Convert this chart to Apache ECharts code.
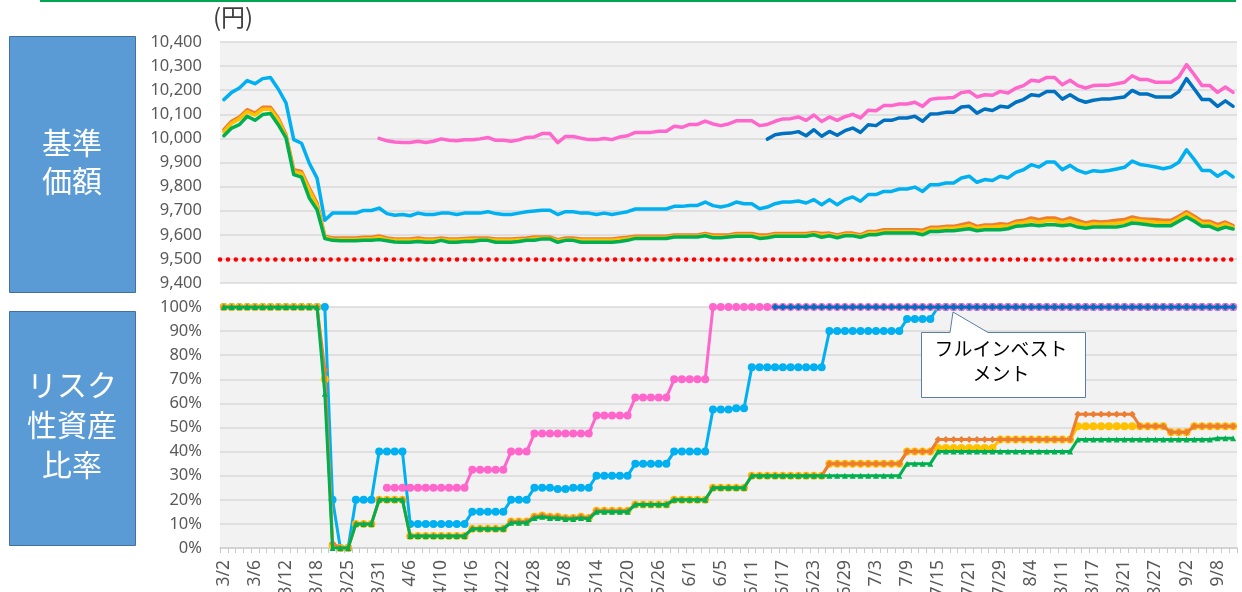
<!DOCTYPE html>
<html>
<head>
<meta charset="utf-8">
<script src="https://cdn.jsdelivr.net/npm/echarts@6/dist/echarts.min.js"></script>
<style>
  html, body { margin: 0; padding: 0; background: #fff; }
  #main { width: 1242px; height: 592px; }
</style>
</head>
<body>
<div id="main"></div>
<script>
// 営業日 (2020/3/2 - 9/10)
var dates = [
  '3/2','3/3','3/4','3/5','3/6','3/9','3/10','3/11','3/12','3/13','3/16','3/17','3/18','3/19','3/23','3/24','3/25','3/26','3/27','3/30','3/31',
  '4/1','4/2','4/3','4/6','4/7','4/8','4/9','4/10','4/13','4/14','4/15','4/16','4/17','4/20','4/21','4/22','4/23','4/24','4/27','4/28','4/30',
  '5/1','5/7','5/8','5/11','5/12','5/13','5/14','5/15','5/18','5/19','5/20','5/21','5/22','5/25','5/26','5/27','5/28','5/29',
  '6/1','6/2','6/3','6/4','6/5','6/8','6/9','6/10','6/11','6/12','6/15','6/16','6/17','6/18','6/19','6/22','6/23','6/24','6/25','6/26','6/29','6/30',
  '7/1','7/2','7/3','7/6','7/7','7/8','7/9','7/10','7/13','7/14','7/15','7/16','7/17','7/20','7/21','7/22','7/27','7/28','7/29','7/30','7/31',
  '8/3','8/4','8/5','8/6','8/7','8/11','8/12','8/13','8/14','8/17','8/18','8/19','8/20','8/21','8/24','8/25','8/26','8/27','8/28','8/31',
  '9/1','9/2','9/3','9/4','9/7','9/8','9/9','9/10'
];

// 基準価額 (円)
var navCyan = [
  10161,10191,10209,10240,10227,10248,10253,10205,10147,9995,9980,9897,9835,9660,
  9690,9690,9690,9690,9701,9701,9711,9688,9681,
  9684,9679,9690,9684,9684,9690,9690,9684,9690,9690,
  9690,9696,9688,9684,9684,9690,9696,9699,9702,9702,
  9684,9696,9696,9690,9690,9684,9690,9684,9690,9696,
  9707,9707,9707,9707,9707,9718,9718,9722,9722,9736,
  9721,9715,9722,9736,9729,9729,9708,9715,9729,9736,
  9736,9740,9732,9746,9725,
  9746,9725,9746,9757,9739,9767,9767,9780,9780,9790,
  9790,9798,9780,9808,9808,9815,9815,9836,9843,9818,
  9829,9825,9843,9836,9859,9870,9891,9881,9902,9902,
  9870,9888,9867,9856,9866,9863,9867,9873,9880,9906,
  9892,9887,9881,9874,9881,9901,9953,9912,9867,9867,
  9843,9863,9840
];
var navYellow = [
  10028,10063,10081,10111,10097,10121,10121,10077,10008,9862,9855,9785,9722,9590,
  9582,9581,9581,9581,9584,9584,9589,9581,9577,
  9577,9577,9580,9577,9577,9581,9577,9577,9579,9580,
  9581,9581,9577,9577,9577,9579,9581,9585,9586,9586,
  9575,9581,9581,9577,9577,9577,9577,9577,9581,9584,
  9589,9589,9589,9589,9589,9594,9594,9594,9594,9600,
  9593,9593,9594,9599,9599,9599,9592,9593,9599,9599,
  9599,9599,9599,9604,9598,
  9601,9593,9601,9601,9594,9607,9607,9614,9614,9614,
  9614,9614,9610,9623,9623,9627,9627,9633,9639,9627,
  9632,9632,9636,9635,9647,9651,9658,9652,9658,9658,
  9650,9658,9648,9640,9646,9644,9646,9648,9652,9663,
  9658,9655,9652,9650,9650,9668,9687,9668,9647,9647,
  9633,9644,9631
];
var navOrange = [
  10036,10071,10089,10119,10105,10129,10129,10085,10015,9870,9863,9794,9732,9594,
  9587,9587,9587,9587,9590,9590,9595,9587,9583,
  9583,9583,9587,9583,9583,9587,9583,9583,9585,9587,
  9587,9587,9583,9583,9583,9585,9587,9591,9591,9591,
  9580,9587,9587,9583,9583,9583,9583,9583,9587,9590,
  9594,9594,9594,9594,9594,9599,9599,9599,9599,9605,
  9599,9599,9599,9605,9605,9605,9599,9599,9605,9605,
  9605,9605,9605,9610,9605,
  9607,9599,9607,9607,9600,9614,9614,9621,9621,9621,
  9621,9621,9619,9631,9631,9635,9635,9642,9649,9635,
  9641,9641,9646,9643,9656,9660,9670,9663,9670,9670,
  9660,9670,9660,9649,9656,9653,9656,9660,9663,9674,
  9667,9665,9663,9660,9660,9677,9696,9677,9656,9656,
  9642,9653,9638
];
var navGreen = [
  10011,10043,10057,10092,10075,10099,10103,10057,10002,9850,9839,9753,9704,9584,
  9577,9575,9575,9575,9577,9577,9580,9575,9570,
  9569,9569,9572,9569,9569,9577,9569,9569,9572,9572,
  9577,9577,9569,9569,9569,9572,9577,9577,9583,9583,
  9569,9577,9577,9569,9569,9569,9569,9569,9572,9577,
  9585,9585,9585,9585,9585,9591,9591,9591,9591,9596,
  9588,9588,9591,9594,9594,9594,9585,9588,9594,9594,
  9594,9594,9594,9600,9590,
  9596,9588,9596,9596,9590,9600,9600,9607,9607,9607,
  9607,9607,9600,9614,9614,9617,9617,9621,9625,9617,
  9621,9621,9621,9625,9635,9638,9642,9638,9642,9642,
  9638,9642,9632,9627,9632,9632,9632,9632,9638,9649,
  9646,9642,9638,9638,9638,9656,9674,9656,9635,9635,
  9621,9632,9624
];
var navPink = [
  null,null,null,null,null,null,null,null,null,null,
  null,null,null,null,null,null,null,null,null,null,
  10000,9990,9985,9983,9983,9988,9983,9988,9998,9992,
  9990,9994,9994,9998,10004,9992,9992,9988,9994,10004,
  10006,10020,10020,9982,10008,10008,10001,9995,9995,10000,
  9995,10006,10011,10025,10025,10025,10030,10030,10050,10046,
  10058,10058,10072,10060,10053,10060,10073,10073,10073,10053,
  10058,10071,10081,10082,10089,10075,10097,10070,10089,10075,
  10090,10100,10085,10117,10115,10136,10136,10143,10143,10150,
  10133,10162,10167,10168,10170,10190,10195,10172,10181,10179,
  10195,10188,10208,10219,10241,10237,10253,10253,10223,10241,
  10219,10209,10219,10221,10221,10227,10233,10260,10244,10244,
  10233,10233,10233,10255,10306,10264,10219,10219,10191,10213,
  10191
];
var navNavy = [
  null,null,null,null,null,null,null,null,null,null,
  null,null,null,null,null,null,null,null,null,null,
  null,null,null,null,null,null,null,null,null,null,
  null,null,null,null,null,null,null,null,null,null,
  null,null,null,null,null,null,null,null,null,null,
  null,null,null,null,null,null,null,null,null,null,
  null,null,null,null,null,null,null,null,null,null,
  9997,10015,10020,10022,10028,10011,10036,10009,10029,10013,
  10032,10043,10025,10057,10053,10075,10075,10085,10085,10092,
  10071,10101,10102,10108,10108,10130,10133,10105,10122,10116,
  10133,10129,10150,10161,10181,10177,10195,10195,10163,10181,
  10161,10150,10158,10163,10163,10168,10172,10199,10184,10184,
  10172,10172,10172,10194,10248,10205,10161,10161,10133,10156,
  10133
];
var navFloor = 9500;

// リスク性資産比率 (%)
var riskCyan = [
  100,100,100,100,100,100,100,100,100,100,100,100,100,100,
  20,0,0,20,20,20,40,40,40,40,
  10,10,10,10,10,10,10,10,
  15,15,15,15,15,20,20,20,
  25,25,25,24.5,24.5,25,25,25,
  30,30,30,30,30,35,35,35,35,35,
  40,40,40,40,40,57.5,57.5,57.5,58,58,
  75,75,75,75,75,75,75,75,75,75,
  90,90,90,90,90,90,90,90,90,90,
  95,95,95,95,
  100,100,100,100,100,100,100,100,100,100,
  100,100,100,100,100,100,100,100,100,100,
  100,100,100,100,100,100,100,100,100,100,
  100,100,100,100,100,100,100,100,100
];
var riskYellow = [
  100,100,100,100,100,100,100,100,100,100,100,100,100,
  70,1,0,0,10,10,10,20,20,20,20,
  5,5,5,5,5,5,5,5,
  8,8,8,8,8,11,11,11,
  13,13.5,13,13,12.5,12.5,13,12.5,
  15.5,15.5,15.5,15.5,15.5,18,18,18,18,18,
  20,20,20,20,20,25,25,25,25,25,
  30,30,30,30,30,30,30,30,30,30,
  35,35,35,35,35,35,35,35,35,35,
  40,40,40,40,
  41.5,41.5,41.5,41.5,41.5,41.5,41.5,41.5,
  45,45,45,45,45,45,45,45,45,45,
  50.5,50.5,50.5,50.5,50.5,50.5,50.5,50.5,
  50.5,50.5,50.5,50.5,48,48,48,
  50.5,50.5,50.5,50.5,50.5,50.5
];
var riskOrange = [
  100,100,100,100,100,100,100,100,100,100,100,100,100,
  74,2,0,0,10,10,10,20,20,20,20,
  5,5,5,5,5,5,5,5,
  8,8,8,8,8,11,11,11,
  13,13.5,13,13,12.5,12.5,13,12.5,
  15.5,15.5,15.5,15.5,15.5,18,18,18,18,18,
  20,20,20,20,20,25,25,25,25,25,
  30,30,30,30,30,30,30,30,30,30,
  35,35,35,35,35,35,35,35,35,35,
  40,40,40,40,
  45,45,45,45,45,45,45,45,45,45,
  45,45,45,45,45,45,45,45,
  55.5,55.5,55.5,55.5,55.5,55.5,55.5,55.5,
  50.5,50.5,50.5,50.5,48,48,48,
  50.5,50.5,50.5,50.5,50.5,50.5
];
var riskGreen = [
  100,100,100,100,100,100,100,100,100,100,100,100,100,
  64,0,0,0,10,10,10,20,20,20,20,
  5,5,5,5,5,5,5,5,
  8,8,8,8,8,10.5,10.5,10.5,
  12.5,13,12.5,12.5,12,12,12.5,12,
  15,15,15,15,15,18,18,18,18,18,
  20,20,20,20,20,25,25,25,25,25,
  30,30,30,30,30,30,30,30,30,30,
  30,30,30,30,30,30,30,30,30,30,
  35,35,35,35,
  40,40,40,40,40,40,40,40,40,40,
  40,40,40,40,40,40,40,40,
  45,45,45,45,45,45,45,45,45,45,
  45,45,45,45,45,45,45,45,45.5,45.5,45.5
];
var riskPink = [
  null,null,null,null,null,null,null,null,null,null,
  null,null,null,null,null,null,null,null,null,null,null,
  25,25,25,25,25,25,25,25,25,25,25,
  32.5,32.5,32.5,32.5,32.5,40,40,40,
  47.5,47.5,47.5,47.5,47.5,47.5,47.5,47.5,
  55,55,55,55,55,62.5,62.5,62.5,62.5,62.5,
  70,70,70,70,70,
  100,100,100,100,100,100,100,100,100,100,
  100,100,100,100,100,100,100,100,100,100,
  100,100,100,100,100,100,100,100,100,100,
  100,100,100,100,100,100,100,100,100,100,
  100,100,100,100,100,100,100,100,100,100,
  100,100,100,100,100,100,100,100,100,100,
  100,100,100,100,100,100,100,100
];
var riskNavy = [
  null,null,null,null,null,null,null,null,null,null,
  null,null,null,null,null,null,null,null,null,null,
  null,null,null,null,null,null,null,null,null,null,
  null,null,null,null,null,null,null,null,null,null,
  null,null,null,null,null,null,null,null,null,null,
  null,null,null,null,null,null,null,null,null,null,
  null,null,null,null,null,null,null,null,null,null,null,
  100,100,100,100,100,100,100,100,100,100,
  100,100,100,100,100,100,100,100,100,100,
  100,100,100,100,100,100,100,100,100,100,
  100,100,100,100,100,100,100,100,100,100,
  100,100,100,100,100,100,100,100,100,100,
  100,100,100,100,100,100,100,100,100,100
];

var FONT = "'Noto Sans', 'Noto Sans CJK JP', sans-serif";
var JP = "'Noto Sans CJK JP', sans-serif";
var GRAY = '#595959';

function navLine(name, data, color, z) {
    return {
        name: name, type: 'line', xAxisIndex: 0, yAxisIndex: 0,
        data: data, showSymbol: false, z: z,
        lineStyle: { color: color, width: 3.5, cap: 'round', join: 'round' },
        itemStyle: { color: color }
    };
}
function riskLine(name, data, color, symbol, size, z) {
    return {
        name: name, type: 'line', xAxisIndex: 1, yAxisIndex: 1,
        data: data, symbol: symbol, symbolSize: size, showAllSymbol: true, z: z,
        lineStyle: { color: color, width: 3 },
        itemStyle: { color: color }
    };
}

var cyanNav = navLine('cyan', navCyan, '#00b0f0', 2);
cyanNav.markLine = {
    silent: true, symbol: 'none', animation: false,
    label: { show: false },
    lineStyle: { color: '#ff0000', type: [0.1, 7.8], width: 4.5, cap: 'round' },
    data: [{ yAxis: navFloor }]
};

var myChart = echarts.init(document.getElementById('main'));
myChart.setOption({
    animation: false,
    backgroundColor: '#fff',
    textStyle: { fontFamily: FONT },
    grid: [
        { left: 220, right: 5, top: 42, height: 241, show: true, backgroundColor: '#f2f2f2', borderWidth: 0, outerBoundsMode: 'none', containLabel: false },
        { left: 220, right: 5, top: 307, height: 241, show: true, backgroundColor: '#f2f2f2', borderWidth: 0, outerBoundsMode: 'none', containLabel: false }
    ],
    xAxis: [
        {
            type: 'category', gridIndex: 0, data: dates, boundaryGap: true,
            axisLine: { show: false }, axisTick: { show: false }, axisLabel: { show: false }
        },
        {
            type: 'category', gridIndex: 1, data: dates, boundaryGap: true,
            axisLine: { lineStyle: { color: '#d0d0d0', width: 1.5 } },
            axisTick: { show: true, interval: 0, length: 5, lineStyle: { color: '#c8c8c8' } },
            axisLabel: { interval: 3, rotate: 90, fontSize: 17.5, color: GRAY, margin: 12, fontFamily: FONT }
        }
    ],
    yAxis: [
        {
            type: 'value', gridIndex: 0, min: 9400, max: 10400, interval: 100,
            axisLine: { show: false }, axisTick: { show: false },
            axisLabel: {
                fontSize: 16.5, color: GRAY, margin: 18, fontFamily: FONT,
                formatter: function (v) { return v.toLocaleString('en-US'); }
            },
            splitLine: { lineStyle: { color: '#d9d9d9', width: 1.5 } }
        },
        {
            type: 'value', gridIndex: 1, min: 0, max: 100, interval: 10,
            axisLine: { show: false }, axisTick: { show: false },
            axisLabel: { fontSize: 16.5, color: GRAY, margin: 18, fontFamily: FONT, formatter: '{value}%' },
            splitLine: { lineStyle: { color: '#d9d9d9', width: 1.5 } }
        }
    ],
    series: [
        cyanNav,
        navLine('yellow', navYellow, '#ffc000', 3),
        navLine('orange', navOrange, '#ed7d31', 2),
        navLine('green', navGreen, '#00b050', 4),
        navLine('pink', navPink, '#ff66cc', 5),
        navLine('navy', navNavy, '#0070c0', 6),
        riskLine('cyan', riskCyan, '#00b0f0', 'circle', 8, 2),
        riskLine('yellow', riskYellow, '#ffc000', 'circle', 8, 3),
        riskLine('orange', riskOrange, '#ed7d31', 'diamond', 7, 4),
        riskLine('green', riskGreen, '#00b050', 'triangle', 6, 5),
        riskLine('pink', riskPink, '#ff66cc', 'circle', 8, 6),
        riskLine('navy', riskNavy, '#0070c0', 'diamond', 7, 7)
    ],
    graphic: [
        { type: 'line', shape: { x1: 40, y1: 1, x2: 1236, y2: 1 }, style: { stroke: '#00a651', lineWidth: 2 } },
        { type: 'text', left: 213, top: 5, style: { text: '(円)', fill: '#404040', font: '24px ' + JP } },
        { type: 'rect', shape: { x: 9.5, y: 36.5, width: 126, height: 256 }, style: { fill: '#5b9bd5', stroke: '#41719c', lineWidth: 1 } },
        { type: 'text', x: 72, y: 162, style: { text: '基準\n価額', fill: '#fff', font: '30px ' + JP, align: 'center', verticalAlign: 'middle', lineHeight: 38 } },
        { type: 'rect', shape: { x: 9.5, y: 311.5, width: 126, height: 234 }, style: { fill: '#5b9bd5', stroke: '#41719c', lineWidth: 1 } },
        { type: 'text', x: 72, y: 425, style: { text: 'リスク\n性資産\n比率', fill: '#fff', font: '30px ' + JP, align: 'center', verticalAlign: 'middle', lineHeight: 40 } },
        {
            type: 'polygon', z: 100,
            shape: { points: [[921.5, 332.5], [950, 332.5], [953, 312], [988, 332.5], [1085.5, 332.5], [1085.5, 397.5], [921.5, 397.5]] },
            style: { fill: '#fff', stroke: '#5a7fa6', lineWidth: 1 }
        },
        { type: 'text', z: 101, x: 1001, y: 361, style: { text: 'フルインベスト\nメント', fill: '#000', font: '19px ' + JP, align: 'center', verticalAlign: 'middle', lineHeight: 25 } }
    ]
});
</script>
</body>
</html>
